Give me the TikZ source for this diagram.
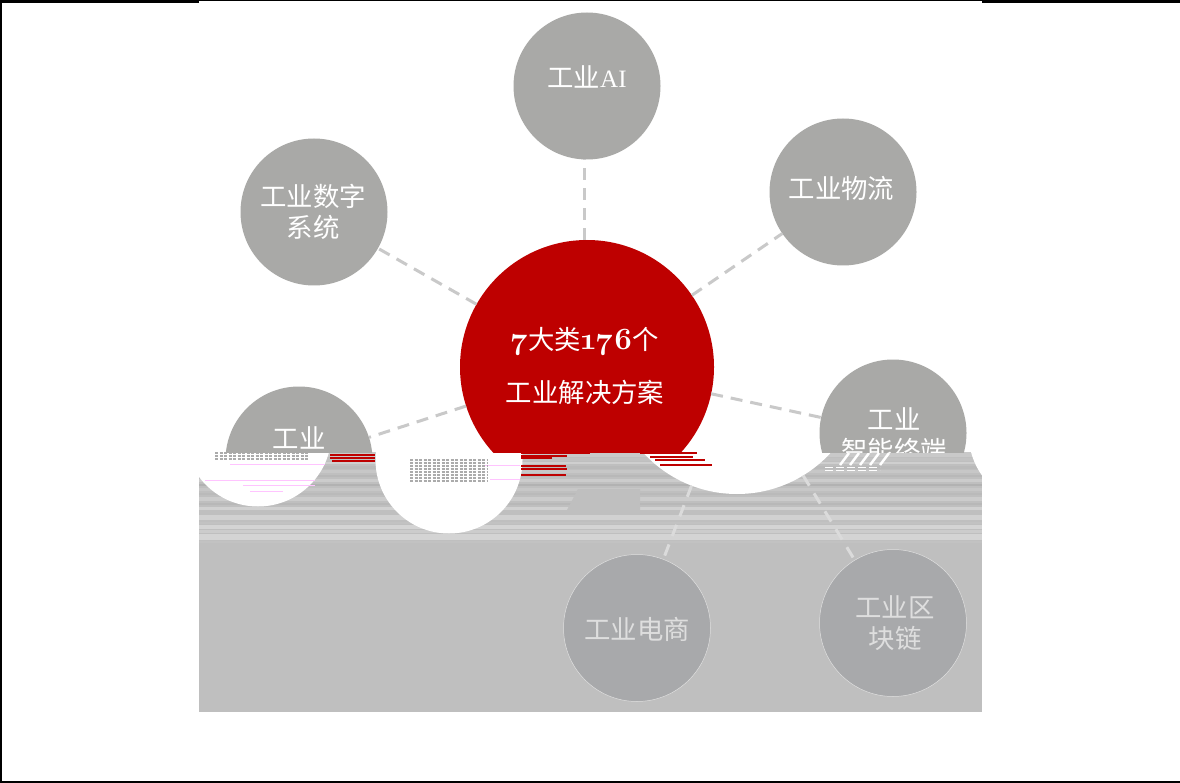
\documentclass[tikz,border=0pt]{standalone}
\usepackage{fontspec}
\setmainfont{Noto Sans CJK SC}
\newfontfamily\numfont[Numbers=OldStyle]{Latin Modern Roman}
\newfontfamily\latfont{Liberation Serif}
\definecolor{redc}{HTML}{BE0000}
\definecolor{gryc}{HTML}{A9A9A7}
\definecolor{grylow}{HTML}{A8A9AB}
\definecolor{bandc}{HTML}{BFBFBF}
\definecolor{edgc}{HTML}{C9C9C9}
\definecolor{pnkc}{HTML}{FFC4FF}
\begin{document}
\begin{tikzpicture}
  [
    x=1pt, y=-1pt,
    font=\fontsize{26.4}{31}\selectfont,
    cir/.style={circle, inner sep=0pt, outer sep=0pt, minimum size=147pt, fill=gryc},
    cirlow/.style={cir, fill=grylow, draw=black!12, line width=0.5pt},
    ghost/.style={cir, fill=white},
    lbl/.style={text=white, align=center},
    lbllow/.style={text=black!13, align=center},
    edg/.style={edgc, line width=3pt, dash pattern=on 12pt off 8pt},
    edglow/.style={black!14, line width=3pt, dash pattern=on 12pt off 9pt},
    redln/.style={redc, line width=1.2pt},
    pnkln/.style={pnkc, line width=0.8pt},
    blot/.style={black!33, line width=1.6pt, dash pattern=on 3pt off 1.5pt}
  ]
  \useasboundingbox (0,0) rectangle (1180,783);
  \fill [white] (0,0) rectangle (1180,783);
  \draw [line width=3pt] (0,1.5) -- (199,1.5);
  \draw [line width=1pt] (199,0.5) -- (982,0.5);
  \draw [line width=3pt] (982,1.5) -- (1180,1.5);
  \draw [line width=2pt] (1,0) -- (1,783);
  \draw [line width=2pt] (0,782) -- (1180,782);

  \begin{scope}
    \clip (199,452) rectangle (982,712);
    \fill [bandc] (199,452) rectangle (982,712);
    \foreach \ya/\hb/\shd in {452/5/21, 458/3/24, 462/2/19, 466/3/27, 470/3/22, 475/2/28,
        479/3/20, 484/2/30, 488/3/22, 493/2/27, 497/4/20, 503/2/28, 507/3/18, 511/2/25,
        515/5/18, 522/2/24, 525/4/17, 530/3/20, 534/6/17, 541/2/24}
      \fill [black!\shd] (199,\ya) rectangle (982,\ya+\hb);
    \fill [bandc] (578,489) -- (640,489) -- (640,512) -- (566,512) -- cycle;
    \node [ghost] (ctrgh) at (737,367) [minimum size=254pt] {};
    \node [ghost] (lftgh) at (449,460) {};
    \node [ghost] (rgtgh) at (258,433) {};
    \node [ghost] (rgtwr) at (1042,433) {};
    \node [cirlow] (ecm) at (637,628) [label={[lbllow,yshift=-1.5pt]center:工业电商}] {};
    \node [cirlow] (bch) at (893,623) [label={[lbllow,xshift=2pt]center:工业区\\块链}] {};
    \draw [edglow] (ctrgh) -- (ecm);
    \draw [edglow] (ctrgh) -- (bch);
    \foreach \ya/\xa/\xb in {455/330/375, 458/330/375, 461/332/375, 453/521/590, 456/521/567,
        458/521/552, 466/521/566, 469/521/567, 475/521/566, 453/640/697, 457/650/693,
        460/655/705, 465/660/712}
      \draw [redln] (\xa,\ya) -- (\xb,\ya);
    \foreach \ya/\xa/\xb in {464/230/325, 480/205/315, 485/243/315, 491/250/283, 465/485/520, 479/490/520}
      \draw [pnkln] (\xa,\ya) -- (\xb,\ya);
    \foreach \ya in {460,463,...,481}
      \draw [blot] (410,\ya) -- (487,\ya);
    \foreach \ya in {453,456,459}
      \draw [blot] (215,\ya) -- (308,\ya);
    \fill [white] (308,452) rectangle (325,461);
    \foreach \xa in {840,850,...,880}
      \draw [white, line width=2.5pt] (\xa,465) -- (\xa+9,453);
    \foreach \ya in {467,470}
      \draw [white, line width=1pt, dash pattern=on 8pt off 3pt] (825,\ya) -- (880,\ya);
  \end{scope}

  \begin{scope}
    \clip (0,0) rectangle (1180,452);
    \node [cir, fill=redc, minimum size=254pt,
      label={[lbl,xshift=-2pt,yshift=1.5pt]center:{\numfont\bfseries\fontsize{31}{31}\selectfont 7}大类{\numfont\bfseries\fontsize{31}{31}\selectfont 176}个\\[22pt]工业解决方案}] (ctr) at (587,367) {};
    \node [cir] (ai) at (587,86) [label={[lbl,yshift=9.5pt]center:工业{\latfont\fontsize{25}{31}\selectfont AI}}] {};
    \node [cir] (lgs) at (843,192) [label={[lbl,yshift=4pt,xshift=-1.5pt]center:工业物流}] {};
    \node [cir] (dsx) at (314,212) [label={[lbl,xshift=-1pt]center:工业数字\\系统}] {};
    \node [cir] (lft) at (299,460) [label={[lbl,yshift=22pt]center:工业}] {};
    \node [cir] (rgt) at (893,433) [label={[lbl,yshift=-2pt,xshift=1pt]center:工业\\智能终端}] {};
    \draw [edg] ([xshift=-3pt]ctr.north) -- ([xshift=-3pt]ai.south);
    \draw [edg] (ctr) -- (lgs);
    \draw [edg] (ctr) -- (dsx);
    \draw [edg] (ctr) -- (lft);
    \draw [edg] (ctr) -- (rgt);
  \end{scope}
\end{tikzpicture}
\end{document}
